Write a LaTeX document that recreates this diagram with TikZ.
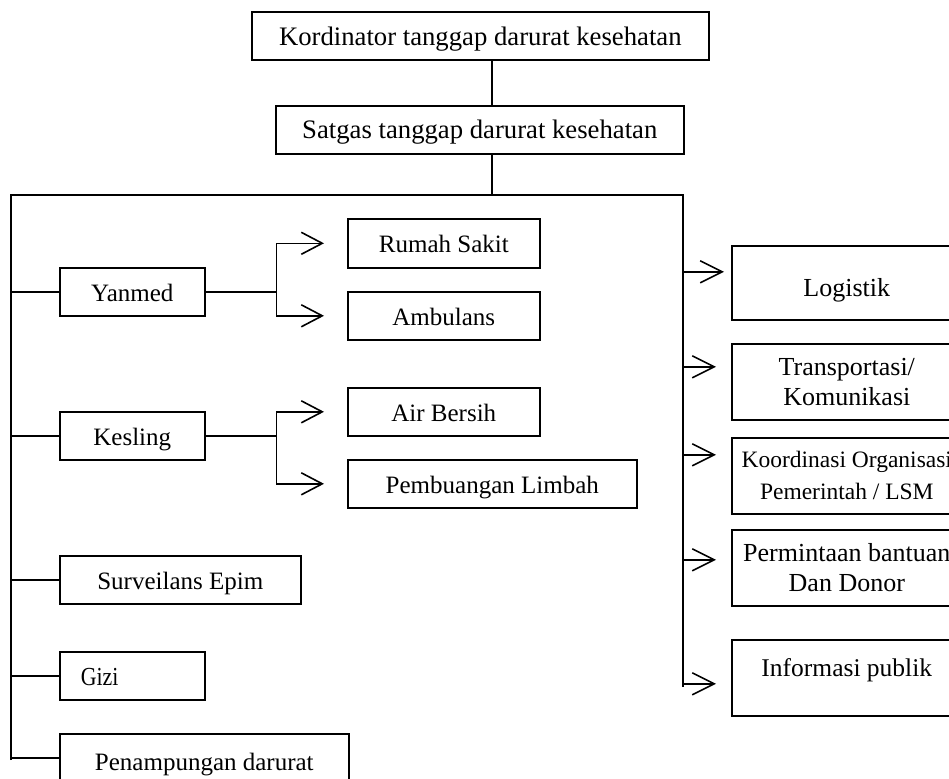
\documentclass[tikz,border=0pt]{standalone}
\usepackage{fontspec}
\setmainfont{Liberation Serif}
\newfontfamily\narrowserif[FakeStretch=0.84]{Liberation Serif}
\usetikzlibrary{arrows.meta}

\begin{document}
\begin{tikzpicture}[x=1pt,y=-1pt,
  ln/.style={line width=1.6pt},
  plainbox/.style={draw, line width=1.6pt, inner sep=0pt, anchor=north west,
    minimum height=48pt, align=center},
  box/.style={plainbox, text depth=6pt, text height=25pt},
  arr/.style={ln, -{Straight Barb[length=21pt,width=22pt]}, shorten >=23pt},
  rarr/.style={ln, -{Straight Barb[length=22pt,width=22pt]}, shorten >=15pt},
  fbig/.style={font=\fontsize{26.7}{31}\selectfont},
  fmid/.style={font=\fontsize{25}{30}\selectfont},
  fright/.style={font=\fontsize{26}{30}\selectfont}
]
\useasboundingbox (0,0) rectangle (949,778);
\clip (0,0) rectangle (949,778);

% top of the hierarchy
\node[box, fbig, minimum width=457pt, text height=24.6pt] (kord) at (251,11)
  {Kordinator tanggap darurat kesehatan};
\node[box, fbig, minimum width=408pt, text height=24pt] (sat) at (275,105)
  {Satgas tanggap darurat kesehatan};

% main distribution lines
\coordinate (bus) at (492,195);
\coordinate (ltop) at (11,195);
\coordinate (rtop) at (683,195);
\coordinate (lend) at (11,760);
\coordinate (rend) at (683,687);

% left column
\node[box, fmid, minimum width=145pt] (yanmed) at (59,267) {Yanmed};
\node[box, fmid, minimum width=145pt] (kesling) at (59,411) {Kesling};
\node[box, fmid, minimum width=241pt, text height=26pt] (surv) at (59,555) {Surveilans Epim};
\node[box, font=\narrowserif\fontsize{26}{30}\selectfont, minimum width=145pt,
  text width=103pt, inner xsep=21pt, align=left, text height=26pt] (gizi) at (59,651) {Gizi};
\node[box, fmid, minimum width=289pt, text height=32pt] (pen) at (59,733) {Penampungan darurat};

% services under Yanmed and Kesling
\node[box, fmid, minimum width=192pt, minimum height=49pt] (rs) at (347,218) {Rumah Sakit};
\node[box, fmid, minimum width=192pt] (amb) at (347,291) {Ambulans};
\node[box, fmid, minimum width=192pt] (air) at (347,387) {Air Bersih};
\node[box, fmid, minimum width=289pt] (pemb) at (347,459) {Pembuangan Limbah};

% right column
\node[box, fright, minimum width=230pt, minimum height=74pt, text height=34pt] (log) at (731,245) {Logistik};
\node[plainbox, fright, minimum width=230pt, minimum height=76pt] (trans) at (731,343)
  {Transportasi/\\Komunikasi};
\node[plainbox, font=\fontsize{23.5}{32}\selectfont, minimum width=230pt, minimum height=76pt] (koor) at (731,437)
  {Koordinasi Organisasi\\Pemerintah / LSM};
\node[plainbox, fright, minimum width=230pt, minimum height=76pt] (perm) at (731,529)
  {Permintaan bantuan\\Dan Donor};
\node[box, font=\fontsize{25.5}{30}\selectfont, minimum width=230pt, minimum height=76pt,
  text height=4pt] (info) at (731,639) {Informasi publik};

% arrow ends on the right-hand boxes
\coordinate (login) at ([yshift=11pt]log.west);
\coordinate (transin) at ([yshift=15pt]trans.west);
\coordinate (koorin) at ([yshift=21pt]koor.west);
\coordinate (permin) at ([yshift=8pt]perm.west);
\coordinate (infoin) at ([yshift=-6pt]info.west);

% connectors
\draw[ln] (kord.south -| bus) -- (sat.north -| bus);
\draw[ln] (sat.south -| bus) -- (bus);
\draw[ln] (lend) -- (ltop) -- (rtop) -- (rend);

\foreach \n in {yanmed,kesling,surv,gizi,pen}
  \draw[ln] (ltop |- \n.west) -- (\n.west);

\draw[ln] (yanmed.east) -- ++(71,0) coordinate (yj);
\draw[arr] (yj) |- (rs.west);
\draw[arr] (yj) |- (amb.west);
\draw[ln] (kesling.east) -- ++(71,0) coordinate (kj);
\draw[arr] (kj) |- (air.west);
\draw[arr] (kj) |- (pemb.west);

\draw[rarr, shorten >=7pt] (rtop |- login) -- (login);
\draw[rarr] (rtop |- transin) -- (transin);
\draw[rarr] (rtop |- koorin) -- (koorin);
\draw[rarr] (rtop |- permin) -- (permin);
\draw[rarr] (rtop |- infoin) -- (infoin);
\end{tikzpicture}
\end{document}
